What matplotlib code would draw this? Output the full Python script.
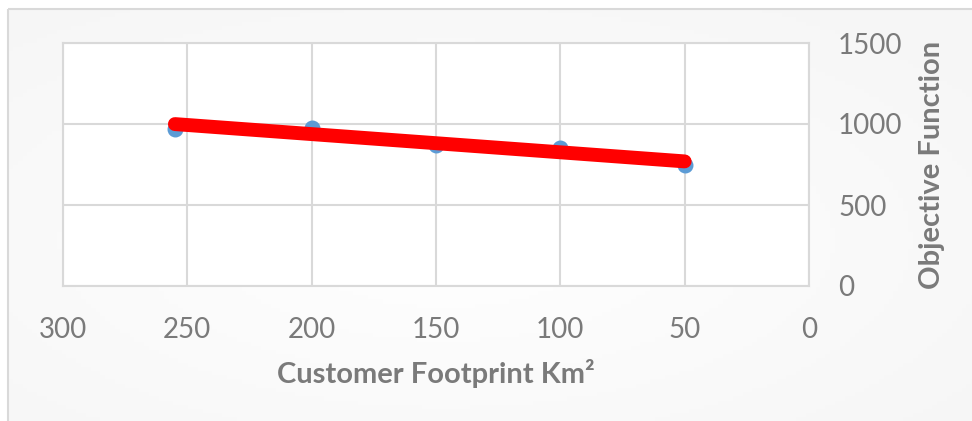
import numpy as np
import matplotlib.pyplot as plt
from matplotlib.patches import Rectangle

# data
footprint = [255, 200, 150, 100, 50]
objective = [970, 978, 868, 852, 745]
x_ticks = [300, 250, 200, 150, 100, 50, 0]
y_ticks = [0, 500, 1000, 1500]

plt.rcParams['font.family'] = ['Lato', 'DejaVu Sans']
grey = '#7a7a7a'

fig = plt.figure(figsize=(9.72, 4.21), dpi=100)
fig.patch.set_facecolor('white')

# chart area background with a faint gradient and a thin border
bg = fig.add_axes([0, 0, 1, 1], zorder=0)
bg.set_xlim(0, 972); bg.set_ylim(421, 0)
bg.axis('off')
gx, gy = np.meshgrid(np.linspace(0, 1, 200), np.linspace(0, 1, 100))
shade = 1 - 0.035 * np.clip(np.hypot(gx - 0.45, gy - 0.55) * 1.4, 0, 1)
bg.imshow(np.dstack([shade] * 3), extent=[8, 980, 430, 9], aspect='auto', zorder=0)
bg.add_patch(Rectangle((8, 9), 980, 430, fill=False, ec='#d9d9d9', lw=1.5, zorder=1))

ax = fig.add_axes([63 / 972, 1 - 286 / 421, (809 - 63) / 972, (286 - 43) / 421], zorder=2)
ax.set_facecolor('white')

ax.scatter(footprint, objective, s=110, color='#5b9bd5', zorder=3, clip_on=False)
k, b = np.polyfit(footprint, objective, 1)
xs = np.array([max(footprint), min(footprint)])
ax.plot(xs, k * xs + b, color='#ff0000', lw=10, solid_capstyle='round', zorder=4)

ax.set_xlim(300, 0)
ax.set_ylim(0, 1500)
ax.set_xticks(x_ticks)
ax.set_yticks(y_ticks)
ax.grid(True, color='#d9d9d9', lw=1.5)
ax.set_axisbelow(True)
for s in ax.spines.values():
    s.set_color('#d9d9d9')
    s.set_linewidth(1.5)
ax.yaxis.tick_right()
ax.yaxis.set_label_position('right')
ax.tick_params(length=0, labelsize=20, labelcolor=grey)
ax.tick_params(axis='x', pad=22)
ax.tick_params(axis='y', pad=21)

ax.set_xlabel('Customer Footprint Km²', fontsize=21, fontweight='bold', color=grey, labelpad=12)
ax.set_ylabel('Objective Function', fontsize=21, fontweight='bold', color=grey, rotation=90, labelpad=12)

fig.savefig('out.png', dpi=100)
